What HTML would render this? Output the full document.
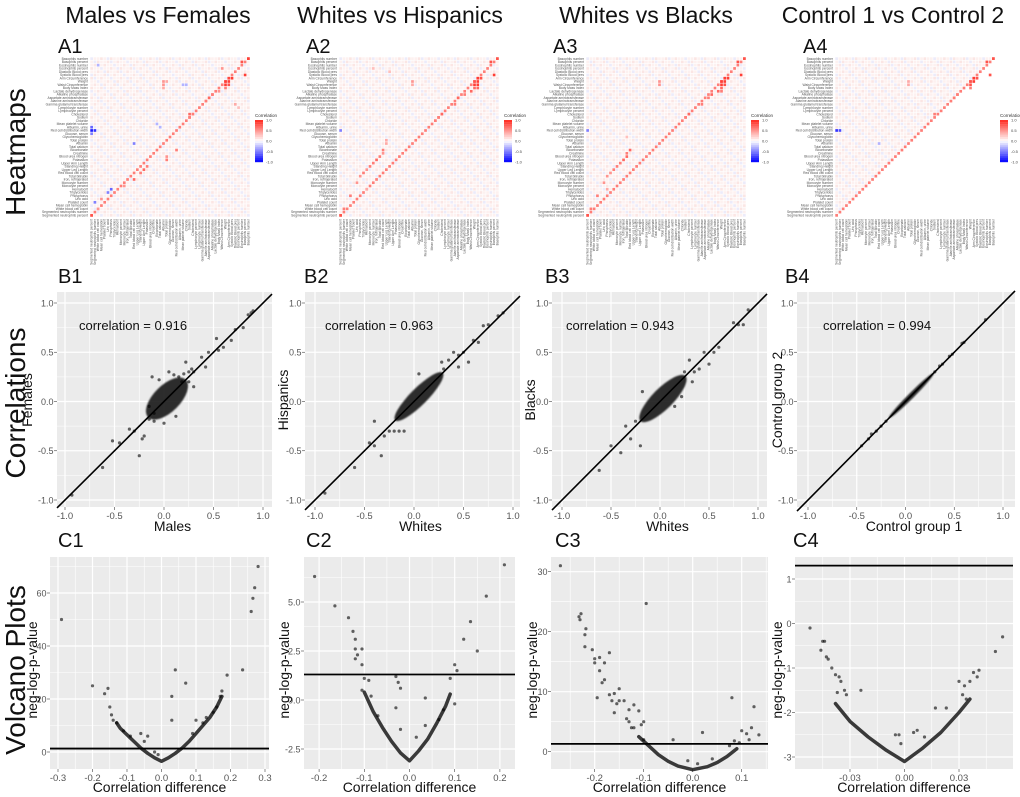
<!DOCTYPE html>
<html><head><meta charset="utf-8">
<style>
html,body{margin:0;padding:0;background:#fff;}
svg{display:block;font-family:"Liberation Sans",Arial,sans-serif;}
</style></head>
<body>
<svg id="fig" width="1020" height="797" viewBox="0 0 1020 797" xmlns="http://www.w3.org/2000/svg">
<defs><filter id="soft" x="-20%" y="-20%" width="140%" height="140%"><feGaussianBlur stdDeviation="0.9"/></filter></defs>
<g font-size="23" text-anchor="middle" fill="#111">
<text x="158" y="23">Males vs Females</text>
<text x="400" y="23">Whites vs Hispanics</text>
<text x="646" y="23">Whites vs Blacks</text>
<text x="893" y="23">Control 1 vs Control 2</text>
</g>
<g font-size="28" text-anchor="middle" fill="#111">
<text transform="translate(25,152) rotate(-90)">Heatmaps</text>
<text transform="translate(25,403) rotate(-90)">Correlations</text>
<text transform="translate(25,670) rotate(-90)">Volcano Plots</text>
</g>
<g id="layer"></g>
</svg>
<script>
// ---------------- DATA ----------------
const varNames = ["Basophils number","Basophils percent","Eosinophils number","Eosinophils percent","Diastolic Blood pres","Systolic Blood pres","Arm Circumference","Weight","Waist Circumference","Body Mass Index","Lactate dehydrogenase","Alkaline phosphatase","Aspartate aminotransferase","Alanine aminotransferase","Gamma glutamyl transferase","Lymphocyte number","Lymphocyte percent","Cholesterol","Sodium","Chloride","Mean platelet volume","Albumin, urine","Red cell distribution width","Glucose, serum","Glycohemoglobin","Total protein","Albumin","Total calcium","Bicarbonate","Creatinine","Blood urea nitrogen","Potassium","Upper Arm Length","Standing Height","Upper Leg Length","Red blood cell count","Total bilirubin","Iron, refrigerated","Monocyte number","Monocyte percent","Hematocrit","Triglycerides","Phosphorus","Uric acid","Platelet count","Mean cell hemoglobin","White blood cell count","Segmented neutrophils number","Segmented neutrophils percent"];
const heatA1 = [[7,41,0.9],[7,42,0.9],[8,41,0.9],[8,42,0.8],[6,42,0.85],[6,43,0.9],[9,41,0.6],[3,40,0.5],[1,46,0.8],[0,48,0.9],[5,47,0.9],[11,37,0.6],[12,36,0.7],[13,35,0.6],[17,30,0.7],[17,31,0.6],[18,30,0.6],[22,0,-0.9],[22,1,-0.8],[21,0,-0.6],[23,0,-0.5],[26,13,-0.5],[28,26,0.6],[31,23,0.6],[30,23,0.5],[33,17,0.6],[34,16,0.7],[35,15,0.6],[37,13,0.7],[39,10,0.5],[40,6,-0.6],[41,5,-0.5],[43,3,0.5],[44,1,-0.5],[46,2,0.5],[48,0,0.8],[7,22,0.5],[8,22,0.5],[9,22,0.4],[7,23,0.4],[8,28,-0.3],[8,29,-0.3],[14,44,0.4],[15,45,0.3],[20,20,-0.3],[21,21,-0.3],[2,2,-0.3],[10,39,0.5]];
const heatA2 = [[7,41,0.8],[7,42,0.9],[8,41,0.9],[8,42,0.9],[6,43,0.8],[6,42,0.9],[9,41,0.7],[9,42,0.7],[10,40,0.7],[1,46,0.8],[0,48,0.8],[5,47,0.9],[11,38,0.6],[12,36,0.7],[14,35,0.6],[17,31,0.7],[18,30,0.6],[19,29,0.6],[28,13,0.6],[29,13,0.5],[30,12,0.6],[31,11,0.7],[32,10,0.6],[33,9,0.6],[34,8,0.5],[35,7,0.6],[36,6,0.5],[38,5,0.5],[40,8,0.4],[42,3,0.6],[46,1,0.6],[48,0,0.8],[7,22,0.5],[8,22,0.4],[22,0,-0.5],[25,14,0.4],[26,14,0.4],[3,10,0.3],[4,15,0.3]];
const heatA3 = [[7,41,0.9],[7,42,0.9],[8,41,0.9],[8,42,0.8],[6,43,0.9],[6,42,0.9],[9,41,0.7],[10,40,0.7],[10,41,0.6],[1,46,0.8],[0,48,0.8],[5,47,0.9],[11,38,0.7],[12,37,0.6],[14,35,0.6],[17,31,0.7],[18,30,0.6],[28,13,0.7],[29,12,0.6],[30,12,0.7],[31,11,0.7],[32,10,0.6],[33,9,0.6],[34,8,0.6],[35,7,0.5],[36,6,0.5],[38,5,0.5],[40,6,0.4],[42,3,0.6],[46,1,0.6],[48,0,0.8],[7,22,0.5],[8,22,0.5],[22,0,-0.5],[24,12,0.3]];
const heatA4 = [[7,41,0.8],[7,42,0.9],[8,41,0.8],[6,42,0.9],[6,43,0.8],[9,41,0.6],[1,46,0.8],[0,48,0.8],[5,47,0.8],[11,37,0.6],[12,36,0.6],[17,30,0.6],[22,0,-0.8],[22,1,-0.7],[7,22,0.4],[8,22,0.4],[26,13,-0.3]];

const b1X = [0.9,0.88,0.85,0.8,0.72,0.68,0.55,0.6,0.53,0.45,0.38,0.42,0.3,0.25,0.22,0.18,-0.25,-0.2,-0.3,-0.35,-0.45,-0.52,-0.62,-0.22,-0.15,-0.12,0.05,0.12,-0.1,0.3,-0.93,0.2,0.15,-0.05,0.1,0.25,-0.15,-0.1,0.0,0.28];
const b1Y = [0.92,0.9,0.88,0.75,0.73,0.62,0.52,0.55,0.64,0.5,0.45,0.35,0.3,0.3,0.4,0.2,-0.55,-0.35,-0.3,-0.28,-0.42,-0.4,-0.67,-0.38,-0.18,0.25,0.3,-0.15,-0.2,0.15,-0.95,0.28,0.25,0.22,0.27,0.2,-0.05,-0.12,-0.22,0.33];
const b2X = [0.9,0.85,0.75,0.7,0.6,0.65,0.5,0.45,0.55,0.35,0.28,-0.6,-0.4,-0.45,-0.33,-0.3,-0.4,-0.25,-0.2,-0.1,-0.15,-0.9,0.05,0.4,0.3,0.45];
const b2Y = [0.9,0.87,0.78,0.77,0.62,0.6,0.5,0.35,0.4,0.42,0.4,-0.67,-0.45,-0.42,-0.55,-0.35,-0.2,-0.3,-0.3,-0.3,-0.3,-0.93,0.28,0.5,0.33,0.47];
const b3X = [0.9,0.85,0.55,0.45,0.5,0.35,0.3,0.25,-0.3,-0.4,-0.5,-0.35,-0.25,-0.2,-0.18,-0.62,0.15,0.75,0.8,0.6,0.4,0.33,0.22];
const b3Y = [0.93,0.78,0.5,0.5,0.38,0.3,0.42,0.3,-0.38,-0.52,-0.45,-0.25,-0.2,-0.45,0.1,-0.7,-0.05,0.8,0.78,0.55,0.33,0.2,0.05];
const b4X = [0.82,0.6,0.58,0.48,0.45,0.38,0.35,0.3,-0.2,-0.3,-0.45,-0.35,-0.25,-0.38];
const b4Y = [0.83,0.6,0.59,0.48,0.46,0.38,0.36,0.3,-0.2,-0.3,-0.45,-0.33,-0.25,-0.38];
const corrLabels = ["correlation = 0.916","correlation = 0.963","correlation = 0.943","correlation = 0.994"];
const cloudCx = [0.03,0.05,0.03,0.06];
const cloudCy = [0.03,0.05,0.03,0.06];
const cloudLen = [0.19,0.24,0.23,0.23];
const cloudWid = [0.095,0.06,0.075,0.02];

const c1BandX = [-0.13,-0.12,-0.1,-0.08,-0.06,-0.04,-0.02,0,0.02,0.04,0.06,0.08,0.1,0.12,0.14,0.16,0.175];
const c1BandY = [11,9,6.5,4,1.5,-0.5,-2.2,-3.5,-2.2,-0.5,1.5,4,7,10,13,17,21];
const c2BandX = [-0.1,-0.09,-0.08,-0.06,-0.04,-0.02,0,0.02,0.04,0.06,0.08,0.09];
const c2BandY = [0.4,-0.1,-0.6,-1.4,-2.1,-2.7,-3.1,-2.6,-2.0,-1.2,-0.3,0.3];
const c3BandX = [-0.11,-0.09,-0.07,-0.05,-0.03,0,0.03,0.05,0.07,0.09];
const c3BandY = [2.5,1,-0.5,-1.6,-2.4,-3,-2.5,-1.8,-0.8,0.5];
const c4BandX = [-0.038,-0.03,-0.02,-0.01,0,0.01,0.02,0.03,0.036];
const c4BandY = [-1.8,-2.2,-2.55,-2.85,-3.1,-2.8,-2.45,-2.0,-1.7];
const c1X = [-0.29,-0.2,-0.165,-0.155,-0.15,-0.145,-0.14,-0.06,-0.05,-0.04,0.03,0.04,0.07,0.03,0.1,0.19,0.235,0.26,0.265,0.27,0.28,0.175,0.17,0.15,0.16,-0.01,-0.02,-0.13,0.12,-0.11,0.09,0.13,-0.09];
const c1Y = [50,25,22,24,17,14,12,7,4,6,21,31,26,12,12,29,31,53,58,62,70,23,21,15,17,-1,0,11,11,8,7,13,6];
const c2X = [-0.21,-0.165,-0.135,-0.125,-0.12,-0.12,-0.115,-0.12,-0.105,-0.105,-0.1,-0.09,-0.105,-0.03,-0.025,-0.02,-0.03,-0.02,0.035,0.015,0.035,0.1,0.105,0.09,0.12,0.135,0.15,0.17,0.21,0.1,-0.085,-0.07,0.075,0.065];
const c2Y = [6.3,4.8,4.2,3.5,3.1,2.6,2.3,2.1,2.6,1.8,1.1,1.0,0.5,1.2,0.9,0.6,-0.4,-1.5,0.1,-1.9,-1.3,1.8,1.5,1.1,3.1,4.0,2.5,5.3,6.9,-0.2,0.2,-0.8,-0.5,-1.0];
const c3X = [-0.27,-0.23,-0.228,-0.232,-0.22,-0.218,-0.22,-0.205,-0.2,-0.2,-0.195,-0.19,-0.19,-0.185,-0.18,-0.18,-0.17,-0.17,-0.165,-0.16,-0.16,-0.155,-0.15,-0.15,-0.14,-0.135,-0.13,-0.13,-0.125,-0.12,-0.12,-0.11,-0.105,-0.095,-0.1,-0.1,-0.04,0.02,-0.01,0.01,0.04,0.08,0.1,0.11,0.12,0.125,0.115,0.135,0.095,0.085,0.075];
const c3Y = [31,22,23,22.5,19.5,20.5,17.5,17,15.5,14.8,9,15.7,13.5,11.5,12,14.8,16.5,9.5,8.5,9.7,6.5,8,10.5,8.5,8.5,5.5,7,5,4,7.8,4,6.8,4.5,24.7,5,2,2,3.2,-1.5,-2,-1.2,9,3.5,3,4,7.5,2,2.8,1.5,1.8,1];
const c4X = [-0.052,-0.045,-0.044,-0.046,-0.043,-0.042,-0.04,-0.038,-0.036,-0.035,-0.037,-0.033,-0.032,-0.024,-0.005,-0.003,-0.002,0.005,0.007,0.011,0.017,0.023,0.03,0.033,0.036,0.038,0.04,0.041,0.05,0.054,0.032,0.034];
const c4Y = [-0.1,-0.4,-0.4,-0.6,-0.75,-0.8,-1.0,-1.15,-1.2,-1.3,-1.55,-1.5,-1.6,-1.5,-2.5,-2.5,-2.7,-2.45,-2.4,-2.55,-1.9,-1.9,-1.3,-1.4,-1.3,-1.1,-1.2,-1.05,-0.63,-0.3,-1.6,-1.7];
const threshold = 1.3;

// ---------------- DRAW ----------------
const NS="http://www.w3.org/2000/svg";
const layer=document.getElementById('layer');
function mk(tag,parent){const e=document.createElementNS(NS,tag);parent.appendChild(e);return e;}
function lin(d0,d1,p0,p1){return v=>p0+(v-d0)*(p1-p0)/(d1-d0);}

const heatCfg=[{x:90,lab:'A1',data:heatA1,tri:false,lx:58},{x:339,lab:'A2',data:heatA2,tri:false,lx:306},{x:586,lab:'A3',data:heatA3,tri:false,lx:553},{x:835,lab:'A4',data:heatA4,tri:true,lx:803}];
function heatColor(v){
  const a=Math.min(1,Math.abs(v));
  if(v>=0){const g=Math.round(255-a*(255-40)),b=Math.round(255-a*(255-30));return `rgb(255,${g},${b})`;}
  const r=Math.round(255-a*255),g=Math.round(255-a*255);return `rgb(${r},${g},255)`;
}
heatCfg.forEach((cfg,pi)=>{
  const g=mk('g',layer);
  
  
  const n=varNames.length, top=57, size=160, cs=size/n;
  const lab=mk('text',g);lab.textContent=cfg.lab;
  
  
  lab.setAttribute('x',cfg.lx);lab.setAttribute('y',53);lab.setAttribute('font-size','20');lab.setAttribute('fill','#111');
  for(let r=0;r<n;r++)for(let c=0;c<n;c++){
    if(cfg.tri && r+c>n-1) continue;
    const t=mk('rect',g);
    t.setAttribute('x',(cfg.x+c*cs+0.3).toFixed(2));t.setAttribute('y',(top+r*cs+0.3).toFixed(2));
    t.setAttribute('width',(cs-0.6).toFixed(2));t.setAttribute('height',(cs-0.6).toFixed(2));
    t.setAttribute('fill',((r*7+c*3)%5===0)?'#ecebfa':((r+c)%3===0?'#fbe6e4':'#fdf1f0'));
  }
  for(let r=0;r<n;r++){
    const t=mk('rect',g);
    
    
    t.setAttribute('x',(cfg.x+(n-1-r)*cs+0.3).toFixed(2));t.setAttribute('y',(top+r*cs+0.3).toFixed(2));
    t.setAttribute('width',(cs-0.6).toFixed(2));t.setAttribute('height',(cs-0.6).toFixed(2));
    t.setAttribute('fill',heatColor(0.6));
  }
  cfg.data.forEach(d=>{
    const t=mk('rect',g);
    
    
    t.setAttribute('x',(cfg.x+d[1]*cs+0.3).toFixed(2));t.setAttribute('y',(top+d[0]*cs+0.3).toFixed(2));
    t.setAttribute('width',(cs-0.6).toFixed(2));t.setAttribute('height',(cs-0.6).toFixed(2));
    t.setAttribute('fill',heatColor(d[2]));
  });
  varNames.forEach((nm,i)=>{
    const t=mk('text',g);t.textContent=nm;
    
    
    t.setAttribute('x',cfg.x-2);t.setAttribute('y',(top+i*cs+cs*0.85).toFixed(2));
    t.setAttribute('font-size','3.3');t.setAttribute('text-anchor','end');t.setAttribute('fill','#555');
    const b=mk('text',g);b.textContent=varNames[n-1-i];
    
    
    const bx=cfg.x+i*cs+cs*0.8;
    b.setAttribute('transform',`translate(${bx.toFixed(2)},${top+size+2}) rotate(-90)`);
    b.setAttribute('font-size','3.3');b.setAttribute('text-anchor','end');b.setAttribute('fill','#555');
  });
  const lg=mk('g',g);
  
  
  const lx=cfg.x+size+5, ly=120;
  const lt=mk('text',lg);lt.textContent='Correlation';lt.setAttribute('x',lx);lt.setAttribute('y',ly-3);lt.setAttribute('font-size','4.5');lt.setAttribute('fill','#333');
  const steps=20;
  for(let s=0;s<steps;s++){
    const v=1-2*(s+0.5)/steps;const r=mk('rect',lg);
    r.setAttribute('x',lx);r.setAttribute('y',(ly+s*42/steps).toFixed(2));r.setAttribute('width',8);r.setAttribute('height',(42/steps+0.2).toFixed(2));r.setAttribute('fill',heatColor(v));
  }
  ['1.0','0.5','0.0','-0.5','-1.0'].forEach((s,i)=>{const t=mk('text',lg);t.textContent=s;t.setAttribute('x',lx+11);t.setAttribute('y',(ly+i*10.5+1.5).toFixed(1));t.setAttribute('font-size','4');t.setAttribute('fill','#444');});
});

function frame(g,L,R,T,B,xs,ys,xMaj,xMin,yMaj,yMin,xLab,yLab){
  const bg=mk('rect',g);bg.setAttribute('x',L);bg.setAttribute('y',T);bg.setAttribute('width',R-L);bg.setAttribute('height',B-T);bg.setAttribute('fill','#ebebeb');
  
  
  xMin.forEach(v=>{const x=xs(v);if(x<L||x>R)return;const l=mk('line',g);l.setAttribute('x1',x);l.setAttribute('x2',x);l.setAttribute('y1',T);l.setAttribute('y2',B);l.setAttribute('stroke','#fff');l.setAttribute('stroke-width','0.6');});
  yMin.forEach(v=>{const y=ys(v);if(y<T||y>B)return;const l=mk('line',g);l.setAttribute('y1',y);l.setAttribute('y2',y);l.setAttribute('x1',L);l.setAttribute('x2',R);l.setAttribute('stroke','#fff');l.setAttribute('stroke-width','0.6');});
  xMaj.forEach((v,i)=>{const l=mk('line',g);const x=xs(v);l.setAttribute('x1',x);l.setAttribute('x2',x);l.setAttribute('y1',T);l.setAttribute('y2',B);l.setAttribute('stroke','#fff');l.setAttribute('stroke-width','1.2');
    const tk=mk('line',g);tk.setAttribute('x1',x);tk.setAttribute('x2',x);tk.setAttribute('y1',B);tk.setAttribute('y2',B+3);tk.setAttribute('stroke','#444');tk.setAttribute('stroke-width','0.6');
    const t=mk('text',g);t.textContent=xLab[i];
    
    
    t.setAttribute('x',x);t.setAttribute('y',B+12);t.setAttribute('font-size','9.5');t.setAttribute('text-anchor','middle');t.setAttribute('fill','#555');});
  yMaj.forEach((v,i)=>{const l=mk('line',g);const y=ys(v);l.setAttribute('y1',y);l.setAttribute('y2',y);l.setAttribute('x1',L);l.setAttribute('x2',R);l.setAttribute('stroke','#fff');l.setAttribute('stroke-width','1.2');
    const tk=mk('line',g);tk.setAttribute('y1',y);tk.setAttribute('y2',y);tk.setAttribute('x1',L-3);tk.setAttribute('x2',L);tk.setAttribute('stroke','#444');tk.setAttribute('stroke-width','0.6');
    const t=mk('text',g);t.textContent=yLab[i];
    
    
    t.setAttribute('x',L-3.5);t.setAttribute('y',y+3.3);t.setAttribute('font-size','9');t.setAttribute('text-anchor','end');t.setAttribute('fill','#555');});
}
function addText(g,txt,x,y,size,rot,name){
  const t=mk('text',g);t.textContent=txt;
  
  
  t.setAttribute('font-size',size);t.setAttribute('fill','#111');
  if(rot){t.setAttribute('text-anchor','middle');t.setAttribute('transform',`translate(${x},${y}) rotate(-90)`);}
  else{t.setAttribute('x',x);t.setAttribute('y',y);}
  return t;
}
function dot(g,x,y){const c=mk('circle',g);
  
  
  c.setAttribute('cx',x.toFixed(1));c.setAttribute('cy',y.toFixed(1));c.setAttribute('r','1.6');c.setAttribute('fill','#000');c.setAttribute('fill-opacity','0.6');}

const bCfg=[
 {L:57,R:272,xm:65,xp:263,lab:'B1',lx:58,xt:'Males',yt:'Females',ytx:32,cx:79,X:b1X,Y:b1Y},
 {L:305,R:520,xm:315,xp:513,lab:'B2',lx:304,xt:'Whites',yt:'Hispanics',ytx:288,cx:325,X:b2X,Y:b2Y},
 {L:552,R:767,xm:562,xp:758,lab:'B3',lx:545,xt:'Whites',yt:'Blacks',ytx:535,cx:566,X:b3X,Y:b3Y},
 {L:797,R:1015,xm:808,xp:1003,lab:'B4',lx:785,xt:'Control group 1',yt:'Control group 2',ytx:782,cx:823,X:b4X,Y:b4Y}];
const bTicks=[-1,-0.5,0,0.5,1], bTickLab=['-1.0','-0.5','0.0','0.5','1.0'], bMinor=[-0.75,-0.25,0.25,0.75];
bCfg.forEach((c,i)=>{
  const g=mk('g',layer);
  
  
  const T=292,B=507;
  const xs=lin(-1,1,c.xm,c.xp), ys=lin(-1,1,500,303);
  frame(g,c.L,c.R,T,B,xs,ys,bTicks,bMinor,bTicks,bMinor,bTickLab,bTickLab);
  addText(g,c.lab,c.lx,283,20,false,'panel-label-'+c.lab.toLowerCase());
  addText(g,c.xt,(c.L+c.R)/2+8,531,14,false,'x-axis-title').setAttribute('text-anchor','middle');
  addText(g,c.yt,c.ytx,400,14,true,'y-axis-title');
  addText(g,corrLabels[i],c.cx,330,13,false,'correlation-annotation');
  const cxp=xs(cloudCx[i]), cyp=ys(cloudCy[i]);
  const e=mk('ellipse',g);
  
  
  e.setAttribute('cx',cxp);e.setAttribute('cy',cyp);
  e.setAttribute('rx',Math.abs(xs(cloudLen[i]*1.414)-xs(0)));e.setAttribute('ry',Math.abs(xs(cloudWid[i]*1.414)-xs(0)));
  e.setAttribute('transform',`rotate(-45 ${cxp} ${cyp})`);e.setAttribute('fill','#151515');e.setAttribute('fill-opacity','0.9');e.setAttribute('filter','url(#soft)');
  const l=mk('line',g);
  
  
  const inv=x=>(x-xs(0))/(xs(1)-xs(0));
  const xa=c.L, xb=c.R;
  l.setAttribute('x1',xa);l.setAttribute('y1',ys(inv(xa)));
  l.setAttribute('x2',xb);l.setAttribute('y2',ys(inv(xb)));l.setAttribute('stroke','#000');l.setAttribute('stroke-width','1.6');
  c.X.forEach((x,k)=>dot(g,xs(x),ys(c.Y[k])));
});

const cCfg=[
 {L:50,R:269,x0:161.5,xk:345,y0:752,yk:2.65,lab:'C1',lx:58,ytx:37,xMaj:[-0.3,-0.2,-0.1,0,0.1,0.2,0.3],xLab:['-0.3','-0.2','-0.1','0.0','0.1','0.2','0.3'],yMaj:[0,20,40,60],yLab:['0','20','40','60'],yMin:[10,30,50,70],bx:c1BandX,by:c1BandY,X:c1X,Y:c1Y},
 {L:304,R:515,x0:409.5,xk:452,y0:700,yk:19.6,lab:'C2',lx:306,ytx:289,xMaj:[-0.2,-0.1,0,0.1,0.2],xLab:['-0.2','-0.1','0.0','0.1','0.2'],yMaj:[-2.5,0,2.5,5],yLab:['-2.5','0.0','2.5','5.0'],yMin:[-1.25,1.25,3.75,6.25],bx:c2BandX,by:c2BandY,X:c2X,Y:c2Y},
 {L:551,R:768,x0:692.7,xk:490,y0:751.7,yk:6,lab:'C3',lx:555,ytx:537,xMaj:[-0.2,-0.1,0,0.1],xLab:['-0.2','-0.1','0.0','0.1'],yMaj:[0,10,20,30],yLab:['0','10','20','30'],yMin:[-5,5,15,25],bx:c3BandX,by:c3BandY,X:c3X,Y:c3Y},
 {L:795,R:1013,x0:904.5,xk:1817,y0:623.5,yk:44.5,lab:'C4',lx:793,ytx:782,xMaj:[-0.03,0,0.03],xLab:['-0.03','0.00','0.03'],yMaj:[-3,-2,-1,0,1],yLab:['-3','-2','-1','0','1'],yMin:[-2.5,-1.5,-0.5,0.5],bx:c4BandX,by:c4BandY,X:c4X,Y:c4Y}];
cCfg.forEach(c=>{
  const g=mk('g',layer);
  
  
  const T=557,B=769;
  const xs=v=>c.x0+v*c.xk, ys=v=>c.y0-v*c.yk;
  const step=c.xMaj[1]-c.xMaj[0];
  const xMin=c.xMaj.map(v=>v+step/2).concat([c.xMaj[0]-step/2]);
  frame(g,c.L,c.R,T,B,xs,ys,c.xMaj,xMin,c.yMaj,c.yMin,c.xLab,c.yLab);
  addText(g,c.lab,c.lx,547,20,false,'panel-label-'+c.lab.toLowerCase());
  addText(g,'Correlation difference',(c.L+c.R)/2,792,14,false,'x-axis-title').setAttribute('text-anchor','middle');
  addText(g,'neg-log-p-value',c.ytx,670,14,true,'y-axis-title');
  const p=mk('polyline',g);
  
  
  p.setAttribute('points',c.bx.map((x,k)=>xs(x).toFixed(1)+','+ys(c.by[k]).toFixed(1)).join(' '));
  p.setAttribute('fill','none');p.setAttribute('stroke','#1a1a1a');p.setAttribute('stroke-opacity','0.85');p.setAttribute('stroke-width','3.5');p.setAttribute('stroke-linejoin','round');p.setAttribute('stroke-linecap','round');
  c.X.forEach((x,k)=>dot(g,xs(x),ys(c.Y[k])));
  const l=mk('line',g);
  
  
  l.setAttribute('x1',c.L);l.setAttribute('x2',c.R);l.setAttribute('y1',ys(threshold));l.setAttribute('y2',ys(threshold));l.setAttribute('stroke','#000');l.setAttribute('stroke-width','1.8');
});
</script>
</body></html>
